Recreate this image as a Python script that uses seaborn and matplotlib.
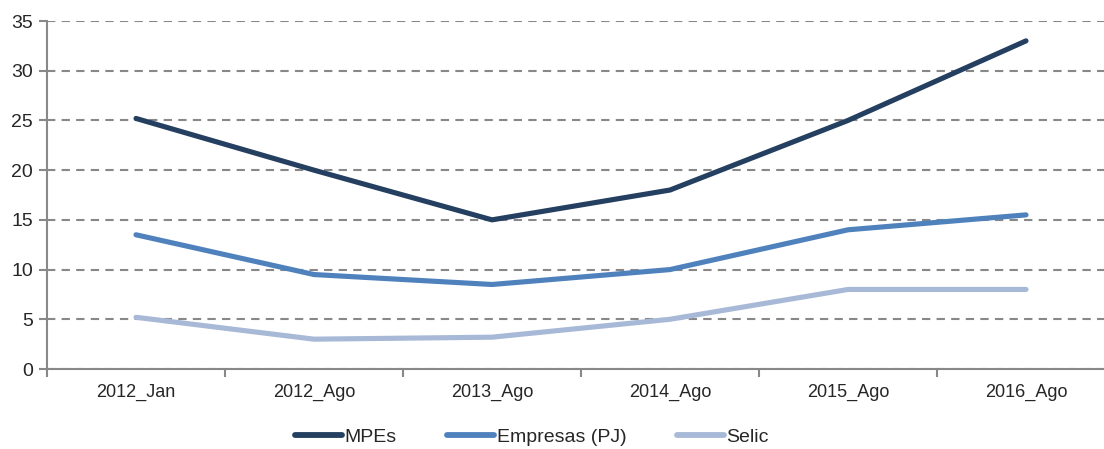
import matplotlib
matplotlib.use("Agg")
import matplotlib.pyplot as plt
import seaborn as sns
import pandas as pd

# -------- data --------
periods = ["2012_Jan", "2012_Ago", "2013_Ago", "2014_Ago", "2015_Ago", "2016_Ago"]
mpes = [25.2, 20.0, 15.0, 18.0, 25.0, 33.0]
empresas = [13.5, 9.5, 8.5, 10.0, 14.0, 15.5]
selic = [5.2, 3.0, 3.2, 5.0, 8.0, 8.0]

series_names = ["MPEs", "Empresas (PJ)", "Selic"]
colors = ["#243F60", "#4F81BD", "#A7B9D7"]

df = pd.DataFrame({
    "periodo": periods * 3,
    "valor": mpes + empresas + selic,
    "serie": [s for s in series_names for _ in periods],
})

sns.set_style("white")
plt.rcParams["font.family"] = ["Liberation Sans", "DejaVu Sans"]

fig = plt.figure(figsize=(11.04, 4.49), dpi=100)
ax = fig.add_axes([47 / 1104, 80 / 449, (1104 - 47) / 1104, 348 / 449])

sns.lineplot(
    data=df, x="periodo", y="valor", hue="serie",
    palette=dict(zip(series_names, colors)),
    linewidth=3.7, sort=False, ax=ax, legend=True,
)
for line in ax.lines:
    line.set_solid_capstyle("round")

ax.set_yticks(range(0, 36, 5))
ax.set_ylim(0, 35)
ax.set_xticks(range(len(periods)))
ax.set_xticklabels(periods)
ax.set_xticks([i - 0.5 for i in range(len(periods))], minor=True)
# ticks can push the limits out, so set them last
ax.set_xlim(-0.5, -0.5 + (1104 - 47) / 178.0)
ax.tick_params(axis="x", which="major", bottom=True, length=0, pad=11, labelsize=13)
ax.tick_params(axis="x", which="minor", bottom=True, length=6, width=1.5,
               color="#888888", direction="out")
ax.tick_params(axis="y", left=True, length=6, width=1.5, color="#888888",
               direction="out", labelsize=14, pad=4)

ax.yaxis.grid(True, linestyle=(0, (4, 3)), color="#888888", linewidth=1.5)
ax.set_axisbelow(True)
for side in ["top", "right"]:
    ax.spines[side].set_visible(False)
for side in ["left", "bottom"]:
    ax.spines[side].set_color("#888888")
    ax.spines[side].set_linewidth(1.5)

ax.set_xlabel("")
ax.set_ylabel("")

handles, labels = ax.get_legend_handles_labels()
ax.get_legend().remove()
for h in handles:
    h.set_linewidth(4.2)
    h.set_solid_capstyle("round")
fig.legend(
    handles, labels, loc="center", bbox_to_anchor=(532 / 1104, 1 - 437 / 449),
    ncol=3, frameon=False, fontsize=14, handlelength=2.4, handletextpad=0.15,
    columnspacing=2.6,
)

fig.savefig("out.png", dpi=100)
